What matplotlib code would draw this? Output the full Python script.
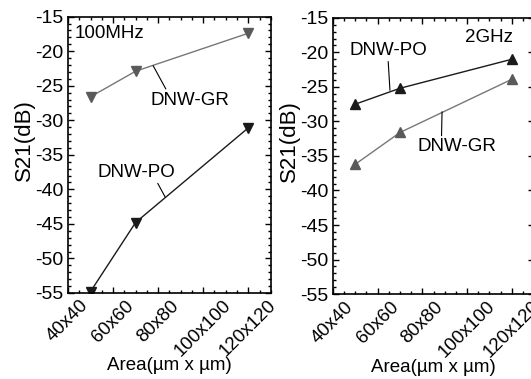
import matplotlib.pyplot as plt
from matplotlib.ticker import MultipleLocator

plt.rcParams['font.family'] = ['Liberation Sans', 'DejaVu Sans']
plt.rcParams['axes.unicode_minus'] = False

# device sizes (side in um) and tick labels
sizes = [50, 70, 120]
tick_pos = [40, 60, 80, 100, 120]
tick_labels = ['40x40', '60x60', '80x80', '100x100', '120x120']

# S21 (dB) at 100 MHz
gr_100m = [-26.6, -22.9, -17.4]
po_100m = [-54.8, -44.8, -31.1]

# S21 (dB) at 2 GHz
po_2g = [-27.5, -25.2, -21.0]
gr_2g = [-36.2, -31.6, -23.9]

fig = plt.figure(figsize=(5.31, 3.79), dpi=100)
ax1 = fig.add_axes([0.128, 0.227, 0.382, 0.729])
ax2 = fig.add_axes([0.627, 0.224, 0.379, 0.729])

gray = '#5a5a5a'
black = '#1a1a1a'
fs_tick = 14
fs_txt = 13.5


def style(ax):
    ax.set_xlim(40, 130)
    ax.set_ylim(-55, -15)
    ax.set_xticks(tick_pos)
    ax.set_xticklabels(tick_labels, rotation=45, ha='center', fontsize=13.5)
    ax.xaxis.set_minor_locator(MultipleLocator(5))
    ax.yaxis.set_major_locator(MultipleLocator(5))
    ax.yaxis.set_minor_locator(MultipleLocator(1))
    ax.tick_params(which='both', direction='in', top=True, right=True,
                   width=1)
    ax.tick_params(axis='y', labelsize=fs_tick)
    ax.tick_params(which='major', length=4, pad=3)
    ax.tick_params(which='minor', length=2)
    for s in ax.spines.values():
        s.set_linewidth(1.2)
    ax.set_xlabel('Area(\u00b5m x \u00b5m)', fontsize=13.5, labelpad=-2)
    ax.set_ylabel('S21(dB)', fontsize=16, labelpad=0, y=0.554)


line_kw = dict(arrowstyle='-', lw=0.8, shrinkA=0, shrinkB=0)

# 100 MHz panel
ax1.plot(sizes, gr_100m, color='#777777', lw=1, marker='v', ms=7.5,
         mfc=gray, mec=gray)
ax1.plot(sizes, po_100m, color=black, lw=1, marker='v', ms=7.5,
         mfc=black, mec=black)
style(ax1)
ax1.text(43.1, -17.4, '100MHz', fontsize=fs_txt, va='center')
ax1.annotate('DNW-GR', xy=(77.8, -22.1), xytext=(76.4, -27.1),
             fontsize=fs_txt, va='center',
             arrowprops=dict(relpos=(0.22, 1), **line_kw))
ax1.annotate('DNW-PO', xy=(83.1, -41.1), xytext=(53.3, -37.5),
             fontsize=fs_txt, va='center',
             arrowprops=dict(relpos=(0.75, 0), **line_kw))

# 2 GHz panel
ax2.plot(sizes, po_2g, color=black, lw=1, marker='^', ms=7.5,
         mfc=black, mec=black)
ax2.plot(sizes, gr_2g, color='#777777', lw=1, marker='^', ms=7.5,
         mfc=gray, mec=gray)
style(ax2)
ax2.text(120.5, -17.8, '2GHz', fontsize=fs_txt, va='center', ha='right')
ax2.annotate('DNW-PO', xy=(65.5, -25.5), xytext=(47.6, -19.7),
             fontsize=fs_txt, va='center',
             arrowprops=dict(relpos=(0.49, 0), **line_kw))
ax2.annotate('DNW-GR', xy=(88.8, -28.6), xytext=(77.6, -33.7),
             fontsize=fs_txt, va='center',
             arrowprops=dict(relpos=(0.31, 1), **line_kw))

fig.savefig('out.png', dpi=100)
